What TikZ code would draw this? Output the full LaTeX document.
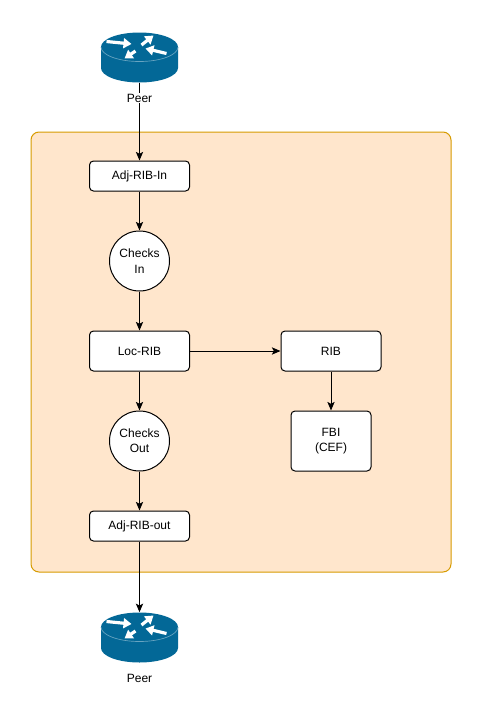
\documentclass[tikz,border=0pt]{standalone}
\usepackage{fontspec}
\setmainfont{Liberation Sans}
\usetikzlibrary{arrows.meta}
\definecolor{routerblue}{HTML}{036897}
\definecolor{panelfill}{HTML}{FFE6CC}
\definecolor{panelline}{HTML}{D79B00}
\tikzset{
  ribbox/.style={
    draw, rectangle, rounded corners=3pt, fill=white, line width=0.75pt,
    minimum width=75pt, minimum height=22.5pt, inner sep=0pt,
    font=\fontsize{9pt}{11.5pt}\selectfont, align=center
  },
  checkcircle/.style={
    draw, circle, fill=white, line width=0.75pt,
    minimum size=45pt, inner sep=0pt,
    font=\fontsize{9pt}{11.5pt}\selectfont, align=center
  },
  peerlabel/.style={
    fill=white, inner sep=0.75pt,
    font=\fontsize{9pt}{11.5pt}\selectfont
  },
  flow/.style={-{Stealth[length=6.5pt, width=5.5pt, inset=1.5pt]}, line width=0.75pt},
  whitearrow/.style={-{Triangle[length=6pt, width=7.5pt]}, white, line width=2.4pt}
}
\newcommand{\ribbox}[5]{%
  \node[ribbox, #5] (#1) at (#3,#4) {#2};%
}
\newcommand{\router}[3]{%
  \fill[routerblue] (#2-38.5,#3) -- (#2-38.5,#3+21)
      arc[start angle=180, end angle=360, x radius=28.875pt, y radius=10.875pt]
      -- (#2+38.5,#3) -- cycle;
  \fill[routerblue] (#2,#3) ellipse[x radius=28.875pt, y radius=10.875pt];
  \draw[routerblue!60!white, line width=0.5pt] (#2-38.5,#3)
      arc[start angle=180, end angle=360, x radius=28.875pt, y radius=10.875pt];
  \draw[whitearrow] (#2-33,#3-5.5) -- (#2-8,#3-3);
  \draw[whitearrow] (#2+2,#3-2) -- (#2+14,#3-11.5);
  \draw[whitearrow] (#2+27,#3+6.5) -- (#2+6,#3+1.5);
  \draw[whitearrow] (#2-4,#3+4) -- (#2-15,#3+11.5);
  \node[minimum width=57.75pt, minimum height=37.5pt, inner sep=0pt] (#1) at (#2,#3+10.5) {};%
}

\begin{document}
\begin{tikzpicture}[x=0.75pt, y=-0.75pt]
    \useasboundingbox (0,0) rectangle (481,715);
    \node[draw=panelline, fill=panelfill, rounded corners=6pt, line width=0.75pt,
          minimum width=315pt, minimum height=330pt, inner sep=0pt] (panel) at (241,352) {};
    \router{PeerIn}{139.5}{47}
    \router{PeerOut}{139.5}{627}
    \ribbox{AdjIn}{Adj-RIB-In}{139.5}{176}{}
    \node[checkcircle] (ChecksIn) at (139.5,261) {Checks\\In};
    \ribbox{LocRib}{Loc-RIB}{139.5}{351}{minimum height=30pt}
    \node[checkcircle] (ChecksOut) at (139.5,441) {Checks\\Out};
    \ribbox{AdjOut}{Adj-RIB-out}{139.5}{526}{}
    \ribbox{Rib}{RIB}{331}{351}{minimum height=30pt}
    \ribbox{Fbi}{FBI\\(CEF)}{331}{441}{minimum width=60pt, minimum height=45pt}
    \draw[flow] (PeerIn) -- (AdjIn);
    \draw[flow] (AdjIn) -- (ChecksIn);
    \draw[flow] (ChecksIn) -- (LocRib);
    \draw[flow] (LocRib) -- (ChecksOut);
    \draw[flow] (ChecksOut) -- (AdjOut);
    \draw[flow] (AdjOut) -- (PeerOut);
    \draw[flow] (LocRib) -- (Rib);
    \draw[flow] (Rib) -- (Fbi);
    \node[peerlabel] (PeerInLabel) at (139.5,98) {Peer};
    \node[peerlabel] (PeerOutLabel) at (139.5,678) {Peer};
\end{tikzpicture}
\end{document}
